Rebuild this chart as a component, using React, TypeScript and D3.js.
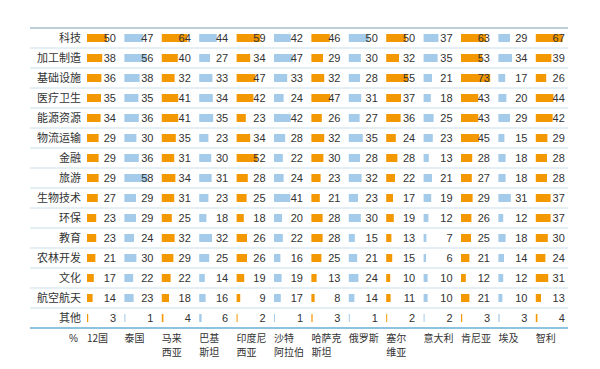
import React from "react";
import * as d3 from "d3";

const countries = [
  ["12国"],
  ["泰国"],
  ["马来", "西亚"],
  ["巴基", "斯坦"],
  ["印度尼", "西亚"],
  ["沙特", "阿拉伯"],
  ["哈萨克", "斯坦"],
  ["俄罗斯"],
  ["塞尔", "维亚"],
  ["意大利"],
  ["肯尼亚"],
  ["埃及"],
  ["智利"],
];

const sectors = [
  "科技", "加工制造", "基础设施", "医疗卫生", "能源资源", "物流运输", "金融",
  "旅游", "生物技术", "环保", "教育", "农林开发", "文化", "航空航天", "其他",
];

const keji = [50, 47, 64, 44, 59, 42, 46, 50, 50, 37, 63, 29, 67];
const jiagong = [38, 56, 40, 27, 34, 47, 29, 30, 32, 35, 53, 34, 39];
const jichu = [36, 38, 32, 33, 47, 33, 32, 28, 55, 21, 73, 17, 26];
const yiliao = [35, 35, 41, 34, 42, 24, 47, 31, 37, 18, 43, 20, 44];
const nengyuan = [34, 36, 41, 35, 23, 42, 26, 27, 36, 25, 43, 29, 42];
const wuliu = [29, 30, 35, 23, 34, 28, 32, 35, 24, 23, 45, 15, 29];
const jinrong = [29, 36, 31, 30, 52, 22, 30, 28, 28, 13, 28, 18, 28];
const lvyou = [29, 58, 34, 31, 28, 24, 23, 32, 22, 21, 27, 18, 28];
const shengwu = [27, 29, 31, 23, 25, 41, 21, 23, 17, 19, 29, 31, 37];
const huanbao = [23, 29, 25, 18, 18, 20, 28, 30, 19, 12, 26, 12, 37];
const jiaoyu = [23, 24, 32, 32, 26, 22, 28, 15, 13, 7, 25, 18, 30];
const nonglin = [21, 30, 29, 25, 26, 16, 25, 21, 15, 6, 21, 14, 24];
const wenhua = [17, 22, 22, 14, 19, 19, 13, 24, 10, 10, 12, 12, 31];
const hangkong = [14, 23, 18, 16, 9, 17, 8, 14, 11, 10, 21, 10, 13];
const qita = [3, 1, 4, 6, 2, 1, 3, 1, 2, 2, 3, 3, 4];

const values = [
  keji, jiagong, jichu, yiliao, nengyuan, wuliu, jinrong,
  lvyou, shengwu, huanbao, jiaoyu, nonglin, wenhua, hangkong, qita,
];

const ORANGE = "#f39800";
const BLUE = "#a5cbea";
const FONT = "'Liberation Sans', 'Noto Sans CJK SC', sans-serif";
const CJK = "'Noto Sans CJK SC', sans-serif";

export default function App() {
  const width = 600;
  const height = 369;
  const left = 30;
  const right = 568;
  const top = 28;

  // column scale: bar start of each country
  const x = d3
    .scaleBand<number>()
    .domain(d3.range(countries.length))
    .range([87, 87 + 37.4 * countries.length]);

  // row scale
  const y = d3
    .scaleBand<string>()
    .domain(sectors)
    .range([top, top + 20 * sectors.length]);

  // bar length
  const w = d3.scaleLinear().domain([0, 100]).range([0, 40]);

  const bottom = top + 20 * sectors.length;

  return (
    <svg
      width={width}
      height={height}
      style={{ position: "absolute", left: 0, top: 0, background: "#fff" }}
    >
      <line x1={left} x2={right} y1={top} y2={top} stroke="#a9bfcc" strokeWidth={1.5} />
      {sectors.slice(1).map((s) => (
        <line
          key={s}
          x1={left}
          x2={right}
          y1={y(s)!}
          y2={y(s)!}
          stroke="#c9dfec"
          strokeWidth={1}
        />
      ))}
      <line x1={left} x2={right} y1={bottom} y2={bottom} stroke="#8ec3e0" strokeWidth={2} />

      {sectors.map((s, r) => {
        const cy = y(s)! + y.bandwidth() / 2;
        return (
          <g key={s}>
            <text
              x={81}
              y={cy}
              dy="0.36em"
              textAnchor="end"
              fontSize={11}
              fontFamily={CJK}
              fill="#333"
            >
              {s}
            </text>
            {values[r].map((v, c) => {
              const x0 = x(c)!;
              return (
                <g key={c}>
                  <rect
                    x={x0}
                    y={cy - 4}
                    width={Math.max(w(v), 1)}
                    height={8}
                    fill={c % 2 === 0 ? ORANGE : BLUE}
                  />
                  <text
                    x={x0 + 29}
                    y={cy}
                    dy="0.36em"
                    textAnchor="end"
                    fontSize={11}
                    fontFamily={FONT}
                    fill="#333"
                  >
                    {v}
                  </text>
                </g>
              );
            })}
          </g>
        );
      })}

      <text
        x={78}
        y={bottom + 10}
        dy="0.36em"
        textAnchor="end"
        fontSize={10}
        fontFamily={FONT}
        fill="#333"
      >
        %
      </text>
      {countries.map((lines, c) =>
        lines.map((l, i) => (
          <text
            key={`${c}-${i}`}
            x={x(c)!}
            y={bottom + 10 + i * 14.5}
            dy="0.36em"
            fontSize={10}
            fontFamily={CJK}
            fill="#333"
          >
            {l}
          </text>
        ))
      )}
    </svg>
  );
}
